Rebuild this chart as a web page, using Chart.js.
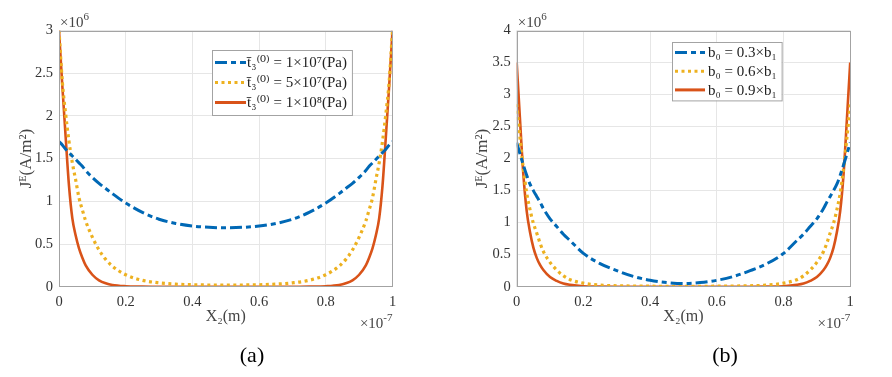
<!DOCTYPE html>
<html>
<head>
<meta charset="utf-8">
<script src="https://cdn.jsdelivr.net/npm/chart.js@4.4.1/dist/chart.umd.min.js"></script>
<style>
  html, body { margin: 0; padding: 0; background: #fff; }
  #wrap { position: relative; width: 892px; height: 377px; overflow: hidden; }
  canvas { position: absolute; top: 0; }
</style>
</head>
<body>
<div id="wrap">
  <canvas id="chartA" width="446" height="377" style="left:0"></canvas>
  <canvas id="chartB" width="446" height="377" style="left:446px"></canvas>
</div>
<script>
// X2 positions, in units of 1e-7 m
const xPos = [0, 0.01, 0.02, 0.03, 0.04, 0.05, 0.06, 0.07, 0.08, 0.1, 0.12, 0.14, 0.16, 0.2, 0.25, 0.3, 0.35, 0.4, 0.45, 0.5,
              0.55, 0.6, 0.65, 0.7, 0.75, 0.8, 0.84, 0.86, 0.88, 0.9, 0.92, 0.93, 0.94, 0.95, 0.96, 0.97, 0.98, 0.99, 1];

// (a) J^E in units of 1e6 A/m^2
const jA_1e7 = [1.70, 1.66, 1.61, 1.57, 1.53, 1.49, 1.45, 1.41, 1.36, 1.28, 1.21, 1.15, 1.09, 0.98, 0.87, 0.79, 0.74, 0.71, 0.695, 0.69,
                0.695, 0.71, 0.74, 0.79, 0.87, 0.98, 1.09, 1.15, 1.21, 1.28, 1.36, 1.41, 1.45, 1.49, 1.53, 1.57, 1.61, 1.66, 1.70];
const jA_5e7 = [3.0, 2.4, 2.02, 1.7, 1.45, 1.25, 1.04, 0.9, 0.77, 0.58, 0.43, 0.32, 0.24, 0.14, 0.075, 0.045, 0.03, 0.023, 0.02, 0.02,
                0.02, 0.023, 0.03, 0.045, 0.075, 0.14, 0.24, 0.32, 0.43, 0.58, 0.77, 0.9, 1.04, 1.25, 1.45, 1.7, 2.02, 2.4, 3.0];
const jA_1e8 = [3.0, 2.35, 1.75, 1.18, 0.8, 0.6, 0.45, 0.34, 0.25, 0.14, 0.075, 0.04, 0.02, 0.006, 0.002, 0, 0, 0, 0, 0,
                0, 0, 0, 0, 0.002, 0.006, 0.02, 0.04, 0.075, 0.14, 0.25, 0.34, 0.45, 0.6, 0.8, 1.18, 1.75, 2.35, 3.0];

// (b) J^E in units of 1e6 A/m^2
const jB_03 = [2.25, 2.07, 1.9, 1.74, 1.6, 1.5, 1.41, 1.32, 1.22, 1.06, 0.94, 0.82, 0.72, 0.52, 0.36, 0.25, 0.16, 0.1, 0.065, 0.05,
               0.065, 0.1, 0.16, 0.25, 0.36, 0.52, 0.72, 0.82, 0.94, 1.06, 1.22, 1.32, 1.41, 1.5, 1.6, 1.74, 1.9, 2.07, 2.25];
const jB_06 = [2.85, 2.32, 1.84, 1.46, 1.2, 0.99, 0.84, 0.68, 0.55, 0.38, 0.26, 0.17, 0.11, 0.055, 0.025, 0.015, 0.01, 0.008, 0.006, 0.006,
               0.006, 0.008, 0.01, 0.015, 0.025, 0.055, 0.11, 0.17, 0.26, 0.38, 0.55, 0.68, 0.84, 0.99, 1.2, 1.46, 1.84, 2.32, 2.85];
const jB_09 = [3.5, 2.6, 1.75, 1.18, 0.85, 0.61, 0.45, 0.34, 0.26, 0.15, 0.09, 0.05, 0.03, 0.008, 0.002, 0, 0, 0, 0, 0,
               0, 0, 0, 0, 0.002, 0.008, 0.03, 0.05, 0.09, 0.15, 0.26, 0.34, 0.45, 0.61, 0.85, 1.18, 1.75, 2.6, 3.5];

const labelsA = ['t̄₃⁽⁰⁾ = 1×10⁷(Pa)', 't̄₃⁽⁰⁾ = 5×10⁷(Pa)', 't̄₃⁽⁰⁾ = 1×10⁸(Pa)'];
const labelsB = ['b₀ = 0.3×b₁', 'b₀ = 0.6×b₁', 'b₀ = 0.9×b₁'];

const xTickLabels = ['0', '0.2', '0.4', '0.6', '0.8', '1'];
const yTickLabelsA = ['0', '0.5', '1', '1.5', '2', '2.5', '3'];
const yTickLabelsB = ['0', '0.5', '1', '1.5', '2', '2.5', '3', '3.5', '4'];

const BLUE = '#0068B5', YELLOW = '#EDB120', RED = '#D95319';
const SERIF = '"Liberation Serif", "DejaVu Serif", serif';

function drawPow(ctx, x, y, base, exp, alignRight) {
  ctx.font = '15px ' + SERIF;
  const wb = ctx.measureText(base).width;
  ctx.font = '11px ' + SERIF;
  const we = ctx.measureText(exp).width;
  const x0 = alignRight ? x - wb - we : x;
  ctx.textAlign = 'left';
  ctx.textBaseline = 'alphabetic';
  ctx.font = '15px ' + SERIF;
  ctx.fillText(base, x0, y);
  ctx.font = '11px ' + SERIF;
  ctx.fillText(exp, x0 + wb, y - 7);
}

const decor = {
  id: 'decor',
  afterDatasetsDraw(chart, args, o) {
    const { ctx, chartArea: a } = chart;
    ctx.save();
    ctx.strokeStyle = '#a3a3a3';
    ctx.lineWidth = 1;
    ctx.strokeRect(Math.round(a.left) + 0.5, Math.round(a.top) + 0.5, Math.round(a.width) - 1, Math.round(a.height) - 1);

    // legend box inside the axes
    const L = o.legend;
    const sets = chart.data.datasets;
    ctx.font = L.size + 'px ' + SERIF;
    const tw = Math.max(...sets.map(d => ctx.measureText(d.label).width));
    const w = L.textX + tw + 5;
    const h = L.first * 2 + L.rowH * (sets.length - 1);
    ctx.fillStyle = '#fff';
    ctx.fillRect(L.x, L.y, w, h);
    ctx.strokeStyle = '#a3a3a3';
    ctx.strokeRect(L.x + 0.5, L.y + 0.5, w, h);
    sets.forEach((d, i) => {
      const yy = L.y + L.first + i * L.rowH;
      ctx.beginPath();
      ctx.setLineDash(d.borderDash || []);
      ctx.strokeStyle = d.borderColor;
      ctx.lineWidth = 3;
      ctx.moveTo(L.x + 3, yy);
      ctx.lineTo(L.x + 3 + L.sample, yy);
      ctx.stroke();
      ctx.setLineDash([]);
      ctx.fillStyle = '#222';
      ctx.textAlign = 'left';
      ctx.textBaseline = 'middle';
      ctx.fillText(d.label, L.x + L.textX, yy + 1);
    });

    // axis multipliers
    ctx.fillStyle = '#444';
    drawPow(ctx, a.left + 1, 27, '×10', '6', false);
    drawPow(ctx, a.right, 328, '×10', '-7', true);

    // caption
    ctx.fillStyle = '#000';
    ctx.font = '22px ' + SERIF;
    ctx.textAlign = 'center';
    ctx.textBaseline = 'middle';
    ctx.fillText(o.caption, o.captionX, 356);
    ctx.restore();
  }
};

function makeSet(label, xs, ys, color, dash, width) {
  return {
    label,
    data: xs.map((x, i) => ({ x, y: ys[i] })),
    borderColor: color,
    backgroundColor: color,
    borderDash: dash,
    borderWidth: width,
    borderCapStyle: 'butt',
    pointRadius: 0,
    fill: false,
    cubicInterpolationMode: 'monotone'
  };
}

function makeChart(id, sets, yLabels, yMax, axisW, yTitlePad, decorOpts) {
  const chartRight = axisW + 333.5;
  return new Chart(document.getElementById(id), {
    type: 'line',
    data: { datasets: sets },
    options: {
      responsive: false,
      animation: false,
      devicePixelRatio: 1,
      layout: { padding: { left: 0, right: 446 - chartRight, top: 30.5, bottom: 40.3 } },
      plugins: {
        legend: { display: false },
        tooltip: { enabled: false },
        decor: decorOpts
      },
      scales: {
        x: {
          type: 'linear',
          min: 0,
          max: 1,
          afterBuildTicks: s => { s.ticks = xTickLabels.map(v => ({ value: +v })); },
          afterFit: s => { s.height = 50; },
          ticks: {
            callback: (v, i) => xTickLabels[i],
            color: '#333',
            padding: 7,
            maxRotation: 0,
            font: { family: SERIF, size: 14.5 }
          },
          grid: { color: '#e6e6e6', drawTicks: false },
          border: { display: false },
          title: {
            display: true,
            text: 'X₂(m)',
            color: '#444',
            font: { family: SERIF, size: 16 },
            padding: { top: 0, bottom: 10 }
          }
        },
        y: {
          min: 0,
          max: yMax,
          afterBuildTicks: s => { s.ticks = yLabels.map(v => ({ value: +v })); },
          afterFit: s => { s.width = axisW; },
          ticks: {
            callback: (v, i) => yLabels[i],
            color: '#333',
            padding: 6,
            font: { family: SERIF, size: 14.5 }
          },
          grid: { color: '#e6e6e6', drawTicks: false },
          border: { display: false },
          title: {
            display: true,
            text: 'Jᴱ(A/m²)',
            color: '#444',
            font: { family: SERIF, size: 17 },
            padding: { top: yTitlePad, bottom: 0 }
          }
        }
      }
    },
    plugins: [decor]
  });
}

makeChart('chartA', [
  makeSet(labelsA[0], xPos, jA_1e7, BLUE, [12, 4, 5, 4], 3),
  makeSet(labelsA[1], xPos, jA_5e7, YELLOW, [3, 3.5], 3.2),
  makeSet(labelsA[2], xPos, jA_1e8, RED, [], 2.6)
], yTickLabelsA, 3, 59, 16, {
  caption: '(a)', captionX: 252,
  legend: { x: 212, y: 50, first: 12.5, rowH: 20, sample: 31, textX: 35, size: 15 }
});

makeChart('chartB', [
  makeSet(labelsB[0], xPos, jB_03, BLUE, [12, 4, 5, 4], 3),
  makeSet(labelsB[1], xPos, jB_06, YELLOW, [3, 3.5], 3.2),
  makeSet(labelsB[2], xPos, jB_09, RED, [], 2.6)
], yTickLabelsB, 4, 70.7, 26, {
  caption: '(b)', captionX: 279,
  legend: { x: 226, y: 42, first: 10.5, rowH: 18.7, sample: 30, textX: 36, size: 15 }
});
</script>
</body>
</html>
